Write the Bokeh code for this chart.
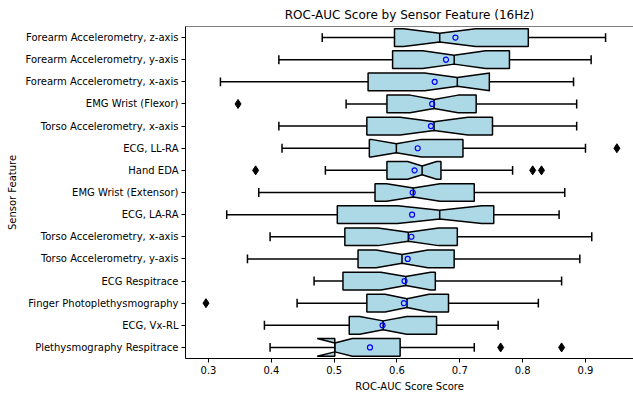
import math
from bokeh.plotting import figure
from bokeh.models import Range1d, FixedTicker, Span
from bokeh.embed import file_html
from bokeh.resources import INLINE

# ---- data (top row first) ----
features = [
    "Forearm Accelerometry, z-axis",
    "Forearm Accelerometry, y-axis",
    "Forearm Accelerometry, x-axis",
    "EMG Wrist (Flexor)",
    "Torso Accelerometry, x-axis",
    "ECG, LL-RA",
    "Hand EDA",
    "EMG Wrist (Extensor)",
    "ECG, LA-RA",
    "Torso Accelerometry, x-axis",
    "Torso Accelerometry, y-axis",
    "ECG Respitrace",
    "Finger Photoplethysmography",
    "ECG, Vx-RL",
    "Plethysmography Respitrace",
]
whisker_low = [0.481, 0.412, 0.319, 0.519, 0.412, 0.417, 0.486, 0.380, 0.329, 0.398, 0.362, 0.468, 0.441, 0.389, 0.398]
q1 = [0.596, 0.593, 0.554, 0.584, 0.552, 0.556, 0.584, 0.565, 0.505, 0.517, 0.538, 0.514, 0.552, 0.524, 0.501]
median = [0.668, 0.691, 0.696, 0.659, 0.659, 0.599, 0.640, 0.626, 0.668, 0.618, 0.608, 0.614, 0.616, 0.578, 0.501]
q3 = [0.809, 0.779, 0.747, 0.726, 0.752, 0.705, 0.670, 0.723, 0.754, 0.696, 0.691, 0.661, 0.682, 0.663, 0.605]
whisker_high = [0.932, 0.909, 0.881, 0.886, 0.886, 0.900, 0.784, 0.867, 0.858, 0.910, 0.891, 0.862, 0.825, 0.761, 0.723]
mean = [0.693, 0.678, 0.660, 0.656, 0.654, 0.633, 0.628, 0.625, 0.624, 0.623, 0.617, 0.612, 0.611, 0.577, 0.557]
outlier_row = [3, 5, 6, 6, 6, 12, 14, 14]
outlier_val = [0.347, 0.950, 0.375, 0.816, 0.830, 0.296, 0.765, 0.862]
n_samples = 34  # per feature, used for notch half-width (1.57 * IQR / sqrt(n))
x_ticks = [0.3, 0.4, 0.5, 0.6, 0.7, 0.8, 0.9]

FONT = "DejaVu Sans"
BOX_W = 0.8

rows = list(range(len(features)))

p = figure(width=633, height=394, output_backend="svg", toolbar_location=None,
           x_range=Range1d(0.26339, 0.97643), y_range=Range1d(14.5, -0.5),
           min_border_left=185, min_border_right=0, min_border_top=23, min_border_bottom=34,
           title="ROC-AUC Score by Sensor Feature (16Hz)")

p.title.text_font = FONT
p.title.text_font_size = "12px"
p.title.text_font_style = "normal"
p.title.align = "center"
p.title.text_color = "black"

p.grid.visible = False
p.outline_line_color = None
p.background_fill_color = "white"
p.border_fill_color = "white"

# top spine
p.add_layout(Span(location=-0.5, dimension="width", line_color="black", line_width=1))

# whiskers
p.segment(x0=q1, y0=rows, x1=whisker_low, y1=rows, line_color="black", line_width=1.5)
p.segment(x0=q3, y0=rows, x1=whisker_high, y1=rows, line_color="black", line_width=1.5)
cap = BOX_W / 4
p.segment(x0=whisker_low, y0=[r - cap for r in rows], x1=whisker_low, y1=[r + cap for r in rows],
          line_color="black", line_width=1.5)
p.segment(x0=whisker_high, y0=[r - cap for r in rows], x1=whisker_high, y1=[r + cap for r in rows],
          line_color="black", line_width=1.5)

# notched boxes
xs, ys = [], []
for r, a, m, b in zip(rows, q1, median, q3):
    half = 1.57 * (b - a) / math.sqrt(n_samples)
    lo, hi = m - half, m + half
    h = BOX_W / 2
    xs.append([a, lo, m, hi, b, b, hi, m, lo, a])
    ys.append([r - h, r - h, r - h / 2, r - h, r - h, r + h, r + h, r + h / 2, r + h, r + h])
p.patches(xs, ys, fill_color="#add8e6", line_color="black", line_width=1.5)

# medians
p.segment(x0=median, y0=[r - BOX_W / 4 for r in rows], x1=median, y1=[r + BOX_W / 4 for r in rows],
          line_color="black", line_width=1.5)

# means
p.scatter(mean, rows, marker="circle", size=5, fill_color=None, line_color="blue", line_width=1.2)

# outliers
p.scatter(outlier_val, outlier_row, marker="diamond", size=9, fill_color="black", line_color="black")

# axes
p.xaxis.ticker = FixedTicker(ticks=x_ticks)
p.yaxis.ticker = FixedTicker(ticks=rows)
p.yaxis.major_label_overrides = {r: f for r, f in zip(rows, features)}
p.xaxis.axis_label = "ROC-AUC Score Score"
p.yaxis.axis_label = "Sensor Feature"
for ax in (p.xaxis[0], p.yaxis[0]):
    ax.axis_line_color = "black"
    ax.axis_line_width = 1
    ax.major_tick_line_color = "black"
    ax.major_tick_in = 0
    ax.major_tick_out = 4
    ax.minor_tick_line_color = None
    ax.major_label_text_font = FONT
    ax.major_label_text_font_size = "10px"
    ax.major_label_text_color = "black"
    ax.axis_label_text_font = FONT
    ax.axis_label_text_font_size = "10px"
    ax.axis_label_text_font_style = "normal"
    ax.axis_label_text_color = "black"
    ax.major_label_standoff = 3
p.yaxis.axis_label_standoff = 4
p.xaxis.axis_label_standoff = 4

open("out.html", "w").write(file_html(p, INLINE))
